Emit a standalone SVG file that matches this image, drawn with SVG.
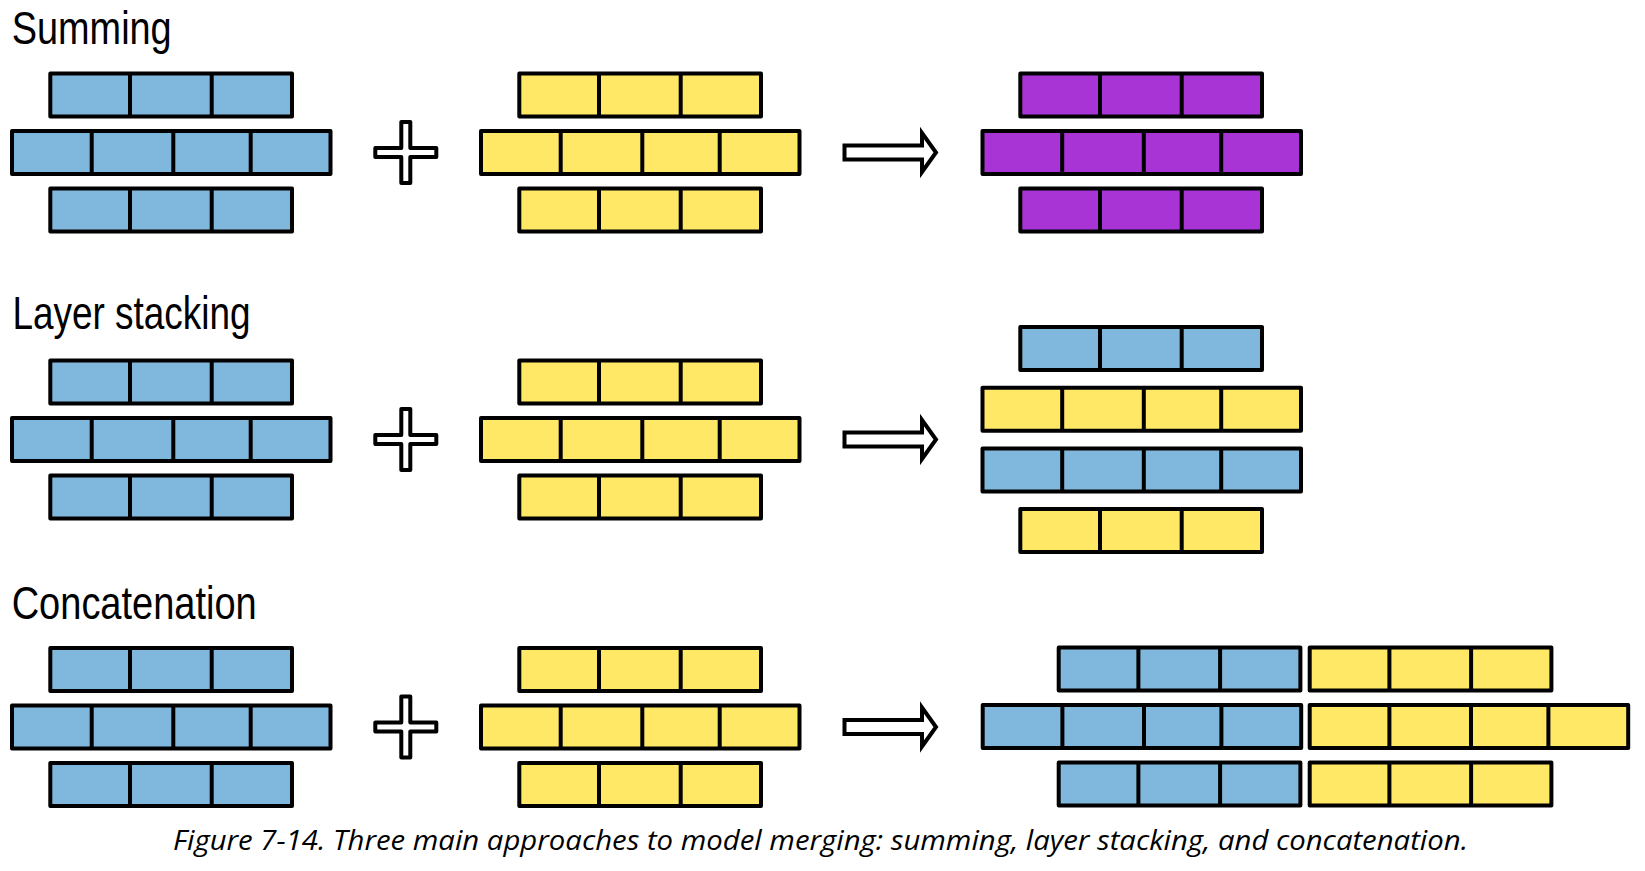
<svg xmlns="http://www.w3.org/2000/svg" xmlns:xlink="http://www.w3.org/1999/xlink" width="1645" height="871" viewBox="0 0 1645 871">
<style>
.brick{stroke:#000;stroke-width:4;stroke-linejoin:round;stroke-linecap:butt}
.blue{fill:#80B7DC}
.yellow{fill:#FFE866}
.purple{fill:#A934D6}
.op{fill:#fff;stroke:#000;stroke-width:4;stroke-linejoin:round}
.arr{fill:#fff;stroke:#000;stroke-width:4;stroke-linejoin:miter;stroke-miterlimit:10}
.title{font-family:"Liberation Sans","Open Sans",sans-serif;font-size:46px;fill:#000}
.caption{font-family:"Open Sans","Noto Sans",sans-serif;font-style:italic;font-size:28px;fill:#000}
</style>
<defs>
<g id="r3" class="brick"><rect x="0" y="0" width="241.7" height="43"/><path d="M79.7 0V43M161.4 0V43" fill="none"/></g>
<g id="r4" class="brick"><rect x="0" y="0" width="318.5" height="43"/><path d="M79.7 0V43M161.3 0V43M238.7 0V43" fill="none"/></g>
<path id="plus" d="M-4.5 -30.5h9v26h26v9h-26v26h-9v-26h-26v-9h26z"/>
<path id="arrow" d="M844.5 -7H922V-19.5L936 0L922 19.5V7H844.5Z"/>
</defs>

<g id="titles">
<text class="title" x="11.7" y="43.5" textLength="160" lengthAdjust="spacingAndGlyphs">Summing</text>
<text class="title" x="12.5" y="329" textLength="238" lengthAdjust="spacingAndGlyphs">Layer stacking</text>
<text class="title" x="11.7" y="619" textLength="245" lengthAdjust="spacingAndGlyphs">Concatenation</text>
</g>

<!-- Summing -->
<g id="sum-input-blue">
<use xlink:href="#r3" href="#r3" class="blue" x="50.3" y="73.5"/>
<use xlink:href="#r4" href="#r4" class="blue" x="12" y="131"/>
<use xlink:href="#r3" href="#r3" class="blue" x="50.3" y="188.5"/>
</g>
<g id="sum-input-yellow">
<use xlink:href="#r3" href="#r3" class="yellow" x="519.3" y="73.5"/>
<use xlink:href="#r4" href="#r4" class="yellow" x="481" y="131"/>
<use xlink:href="#r3" href="#r3" class="yellow" x="519.3" y="188.5"/>
</g>
<g id="sum-result">
<use xlink:href="#r3" href="#r3" class="purple" x="1020.3" y="73.5"/>
<use xlink:href="#r4" href="#r4" class="purple" x="982.5" y="131"/>
<use xlink:href="#r3" href="#r3" class="purple" x="1020.3" y="188.5"/>
</g>

<!-- Layer stacking -->
<g id="stack-input-blue">
<use xlink:href="#r3" href="#r3" class="blue" x="50.3" y="360.5"/>
<use xlink:href="#r4" href="#r4" class="blue" x="12" y="418"/>
<use xlink:href="#r3" href="#r3" class="blue" x="50.3" y="475.5"/>
</g>
<g id="stack-input-yellow">
<use xlink:href="#r3" href="#r3" class="yellow" x="519.3" y="360.5"/>
<use xlink:href="#r4" href="#r4" class="yellow" x="481" y="418"/>
<use xlink:href="#r3" href="#r3" class="yellow" x="519.3" y="475.5"/>
</g>
<g id="stack-result">
<use xlink:href="#r3" href="#r3" class="blue" x="1020.3" y="327"/>
<use xlink:href="#r4" href="#r4" class="yellow" x="982.5" y="387.7"/>
<use xlink:href="#r4" href="#r4" class="blue" x="982.5" y="448.4"/>
<use xlink:href="#r3" href="#r3" class="yellow" x="1020.3" y="509.1"/>
</g>

<!-- Concatenation -->
<g id="concat-input-blue">
<use xlink:href="#r3" href="#r3" class="blue" x="50.3" y="648"/>
<use xlink:href="#r4" href="#r4" class="blue" x="12" y="705.5"/>
<use xlink:href="#r3" href="#r3" class="blue" x="50.3" y="763"/>
</g>
<g id="concat-input-yellow">
<use xlink:href="#r3" href="#r3" class="yellow" x="519.3" y="648"/>
<use xlink:href="#r4" href="#r4" class="yellow" x="481" y="705.5"/>
<use xlink:href="#r3" href="#r3" class="yellow" x="519.3" y="763"/>
</g>
<g id="concat-result">
<use xlink:href="#r3" href="#r3" class="blue" x="1058.7" y="647.5"/>
<use xlink:href="#r4" href="#r4" class="blue" x="982.7" y="705"/>
<use xlink:href="#r3" href="#r3" class="blue" x="1058.7" y="762.5"/>
<use xlink:href="#r3" href="#r3" class="yellow" x="1309.7" y="647.5"/>
<use xlink:href="#r4" href="#r4" class="yellow" x="1309.7" y="705"/>
<use xlink:href="#r3" href="#r3" class="yellow" x="1309.7" y="762.5"/>
</g>

<g id="connectors">
<use xlink:href="#plus" href="#plus" class="op" x="405.8" y="152.5"/>
<use xlink:href="#plus" href="#plus" class="op" x="405.8" y="439.5"/>
<use xlink:href="#plus" href="#plus" class="op" x="405.8" y="727"/>
<use xlink:href="#arrow" href="#arrow" class="arr" x="0" y="152.5"/>
<use xlink:href="#arrow" href="#arrow" class="arr" x="0" y="439.5"/>
<use xlink:href="#arrow" href="#arrow" class="arr" x="0" y="727"/>
</g>

<g id="caption">
<text class="caption" x="173" y="850" textLength="1295" lengthAdjust="spacingAndGlyphs">Figure 7-14. Three main approaches to model merging: summing, layer stacking, and concatenation.</text>
</g>
</svg>
